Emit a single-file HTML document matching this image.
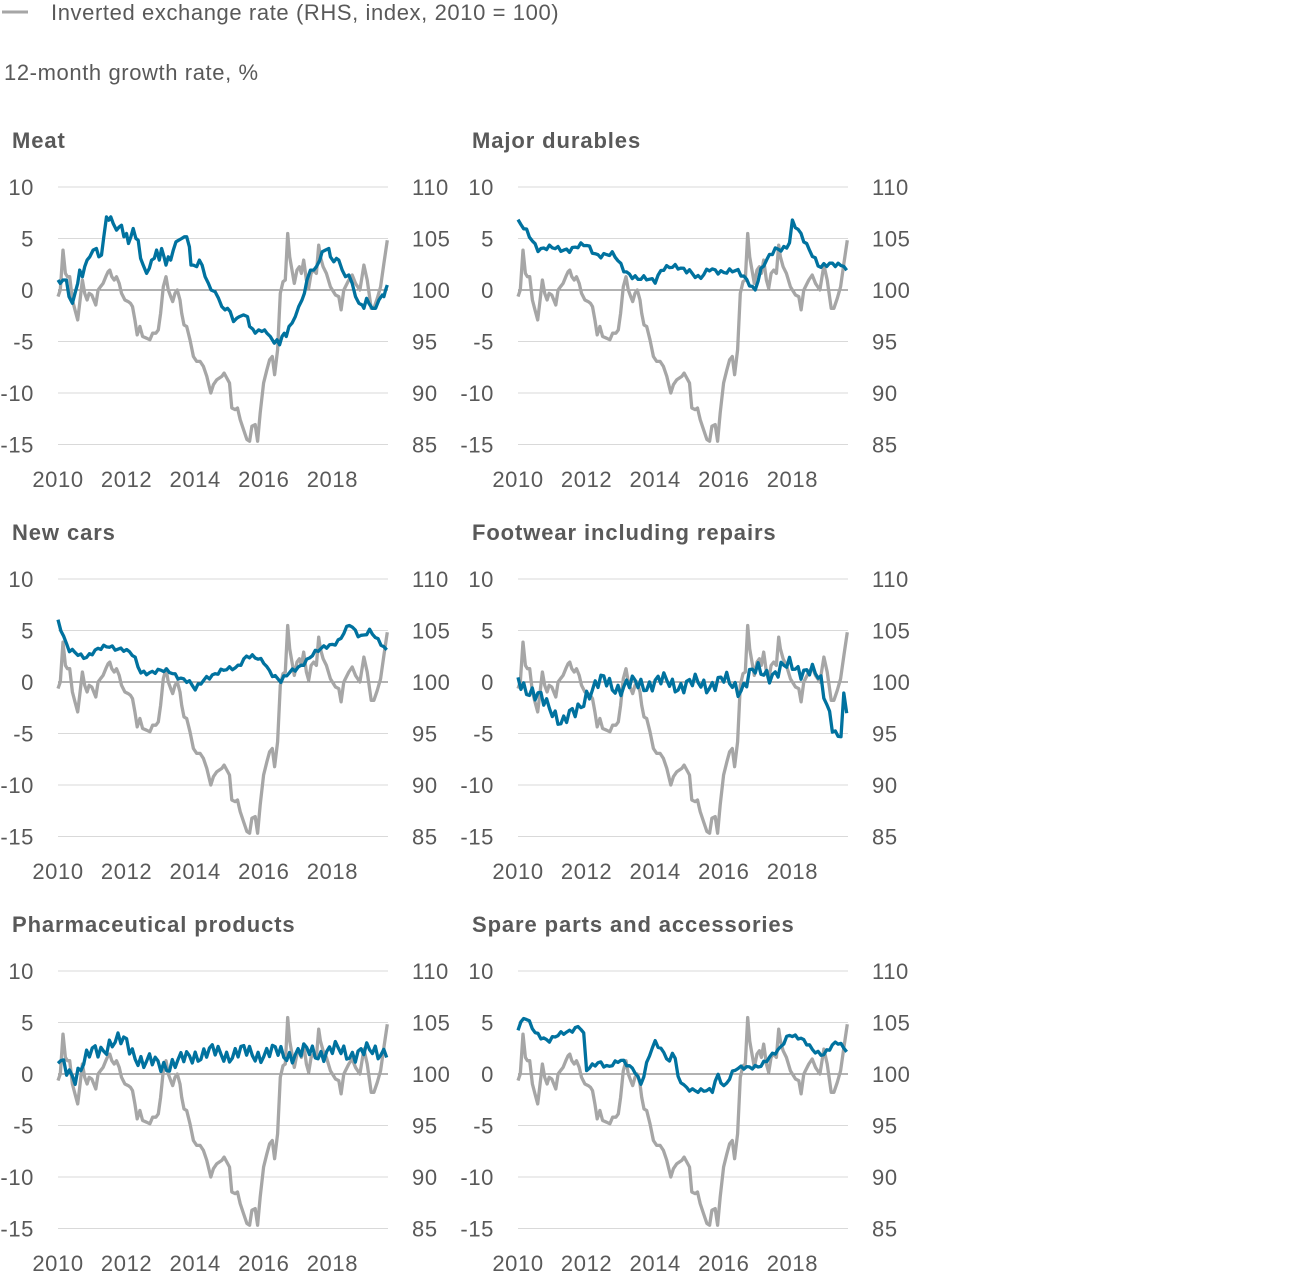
<!DOCTYPE html>
<html><head><meta charset="utf-8">
<style>
html,body{margin:0;padding:0;background:#fff;}
body{width:1308px;height:1281px;overflow:hidden;}
svg text{font-family:"Liberation Sans",sans-serif;letter-spacing:0.6px;}
svg text.t{letter-spacing:0.9px;}
</style></head>
<body>
<svg id="s" width="1308" height="1281" xmlns="http://www.w3.org/2000/svg"></svg>
<script>
const S=document.getElementById('s');
let h='';
h+='<line x1="2" y1="12" x2="28" y2="12" stroke="#a6a6a6" stroke-width="3"/>';
h+='<text x="51" y="20" font-size="22" fill="#595959">Inverted exchange rate (RHS, index, 2010 = 100)</text>';
h+='<text x="4" y="80" font-size="22" fill="#595959">12-month growth rate, %</text>';
const G=[[175,350],[182,330],[190,210],[197,280],[203,290],[210,290],[218,360],[226,390],[234,420],[240,370],[248,300],[255,340],[262,360],[268,340],[276,345],[282,360],[288,375],[295,330],[302,320],[310,310],[318,290],[325,275],[330,270],[336,290],[343,300],[350,290],[358,310],[365,340],[375,360],[385,365],[392,370],[398,380],[405,420],[412,465],[420,440],[428,470],[440,475],[450,480],[458,460],[468,460],[475,450],[482,400],[490,320],[498,290],[505,330],[512,350],[518,365],[525,340],[532,330],[540,360],[545,400],[552,435],[560,440],[570,480],[580,530],[590,545],[600,545],[610,560],[620,590],[632,640],[640,615],[650,600],[665,590],[672,580],[680,595],[688,610],[695,685],[705,690],[712,685],[720,720],[730,750],[740,780],[748,785],[755,740],[765,735],[772,785],[780,700],[790,610],[800,570],[808,540],[816,530],[823,585],[832,510],[840,340],[848,305],[855,300],[862,160],[868,230],[875,270],[882,310],[890,270],[897,260],[903,280],[910,240],[918,300],[925,325],[932,280],[940,270],[948,280],[955,195],[960,230],[968,260],[978,280],[990,320],[1005,345],[1015,350],[1022,390],[1030,330],[1045,300],[1055,285],[1065,310],[1078,330],[1090,255],[1100,300],[1112,385],[1120,385],[1130,355],[1140,320],[1150,250],[1160,180]];
const MEAT=[[175,300],[182,310],[190,300],[200,300],[208,350],[218,370],[226,340],[234,310],[240,270],[248,290],[255,260],[262,240],[270,230],[280,210],[290,205],[297,230],[305,225],[312,170],[320,110],[327,120],[333,110],[340,130],[350,150],[358,140],[365,135],[372,170],[380,160],[386,190],[393,170],[400,145],[408,175],[415,180],[422,235],[430,255],[440,280],[448,265],[455,240],[463,235],[470,210],[478,240],[485,205],[492,230],[498,255],[505,230],[512,240],[520,210],[528,185],[536,180],[545,175],[553,170],[560,170],[568,200],[573,255],[580,255],[590,260],[598,240],[606,255],[615,290],[625,310],[633,330],[645,335],[655,355],[665,380],[675,390],[682,385],[690,395],[700,425],[710,415],[718,410],[730,405],[742,410],[748,440],[758,448],[765,460],[775,450],[785,455],[793,450],[800,460],[810,470],[822,490],[830,480],[838,495],[845,470],[852,460],[858,470],[866,440],[875,430],[885,410],[895,380],[905,360],[912,340],[920,300],[930,270],[940,270],[948,260],[958,240],[965,215],[975,210],[985,205],[990,230],[1000,245],[1008,235],[1015,240],[1025,270],[1035,290],[1045,285],[1055,310],[1065,350],[1075,370],[1085,375],[1090,385],[1098,355],[1105,370],[1115,385],[1125,385],[1135,360],[1145,345],[1150,350],[1155,330],[1160,315]];
function zconv(a){return a.map(p=>[(p[0]-175)/985*9.6,(330-p[1])/31]);}
function noisy(pts,amp,seed){
  const out=[];
  for(let m=0;m<=115;m++){const t=m/12;let i=0;while(i<pts.length-2&&pts[i+1][0]<t)i++;
    const a=pts[i],b=pts[i+1];const f=Math.max(0,Math.min(1,(t-a[0])/(b[0]-a[0]||1)));
    let v=a[1]+(b[1]-a[1])*f;v+=amp*(Math.sin(m*2.3+seed)*0.6+Math.sin(m*5.7+seed*2)*0.5);
    out.push([t,v]);}
  return out;}
const P=(a)=>a.map(p=>[p[0]-2010,p[1]]);
const MD=noisy(P([[2010,6.5],[2010.3,5.5],[2010.6,4],[2011,4],[2011.5,4],[2012,4.3],[2012.3,3.5],[2012.8,3.3],[2013.1,2],[2013.5,1],[2014,1],[2014.2,2.2],[2015,2],[2015.3,1],[2015.6,2],[2016.4,1.7],[2016.7,1],[2016.9,0],[2017.1,2],[2017.5,4],[2017.9,4.3],[2018,6.5],[2018.3,5],[2018.6,3.5],[2018.8,2.2],[2019.5,2.6],[2019.6,1.7]]),0.35,1);
const NC=noisy(P([[2010,6],[2010.3,3],[2010.8,2.5],[2011.1,3],[2011.5,3.5],[2011.9,3.2],[2012.2,2.5],[2012.4,1],[2013.3,1],[2013.8,0],[2014,-0.8],[2014.3,0.5],[2014.8,1],[2015.2,1.5],[2015.5,2.5],[2016,2],[2016.2,1],[2016.5,0],[2016.8,1],[2017.2,2],[2017.8,3.5],[2018.2,4],[2018.5,5.5],[2018.8,4.5],[2019.1,5],[2019.3,4],[2019.6,3]]),0.3,2);
const FW=noisy(P([[2010,0.5],[2010.5,-1.5],[2011,-2.5],[2011.3,-4],[2011.7,-3],[2012,-1],[2012.5,0],[2013,-0.5],[2014,0],[2015,-0.3],[2016,0],[2016.5,-0.5],[2016.8,0.8],[2017.5,1],[2018,1.5],[2018.5,1.2],[2018.8,0],[2019.1,-3],[2019.3,-5.3],[2019.45,-4.8],[2019.5,-2],[2019.6,-3.5]]),1.0,3);
const PH=noisy(P([[2010,1],[2010.5,0],[2011,2],[2011.5,3],[2012,3],[2012.5,1],[2013,1],[2013.5,1],[2014,2],[2015,2],[2016,2],[2017,2],[2018,2.2],[2019,2],[2019.6,2.5]]),1.0,4);
const SP=noisy(P([[2010,4.5],[2010.2,5.5],[2010.5,4],[2010.9,3.3],[2011.4,4],[2011.8,4.8],[2011.95,3.5],[2012.0,0.3],[2012.4,1.2],[2012.6,0.8],[2013,1.2],[2013.4,0.5],[2013.6,-1],[2013.8,1.5],[2014,3],[2014.3,2],[2014.45,1],[2014.55,3.3],[2014.62,-0.3],[2014.9,-1.5],[2015.4,-1.5],[2015.7,-1.8],[2015.8,0],[2016,-1.2],[2016.3,0.5],[2016.7,0.5],[2017.1,1],[2017.6,2.2],[2017.9,4],[2018.2,3.5],[2018.6,2.3],[2018.9,2],[2019.3,3],[2019.6,2.3]]),0.3,5);
const gray=zconv(G), meat=zconv(MEAT);
const panels=[["Meat",meat],["Major durables",MD],["New cars",NC],["Footwear including repairs",FW],["Pharmaceutical products",PH],["Spare parts and accessories",SP]];
const PX=34.3,PY=10.3;
panels.forEach((p,i)=>{
  const c=i%2,r=Math.floor(i/2);const x0=58+460*c,y0=290+392*r;
  h+=`<text class="t" x="${x0-46}" y="${y0-142}" font-size="22" font-weight="bold" fill="#595959">${p[0]}</text>`;
  const L=[10,5,0,-5,-10,-15],R=[110,105,100,95,90,85];
  L.forEach((v,k)=>{const y=y0-v*PY;
    h+=`<line x1="${x0}" x2="${x0+330}" y1="${y}" y2="${y}" stroke="${v==0?'#666':'#d9d9d9'}" stroke-width="1"/>`;
    h+=`<text x="${x0-24}" y="${y+8}" font-size="22" fill="#595959" text-anchor="end">${v}</text>`;
    h+=`<text x="${x0+354}" y="${y+8}" font-size="22" fill="#595959">${R[k]}</text>`;});
  [2010,2012,2014,2016,2018].forEach(yr=>{h+=`<text x="${x0+(yr-2010)*PX}" y="${y0+197}" font-size="22" fill="#595959" text-anchor="middle">${yr}</text>`;});
  const path=a=>a.map((q,j)=>(j?'L':'M')+(x0+q[0]*PX).toFixed(1)+','+(y0-q[1]*PY).toFixed(1)).join('');
  h+=`<path d="${path(gray)}" fill="none" stroke="#a6a6a6" stroke-width="3.3" stroke-linejoin="round"/>`;
  h+=`<path d="${path(p[1])}" fill="none" stroke="#00729f" stroke-width="3.3" stroke-linejoin="round"/>`;
});
S.innerHTML=h;
</script>
</body></html>
